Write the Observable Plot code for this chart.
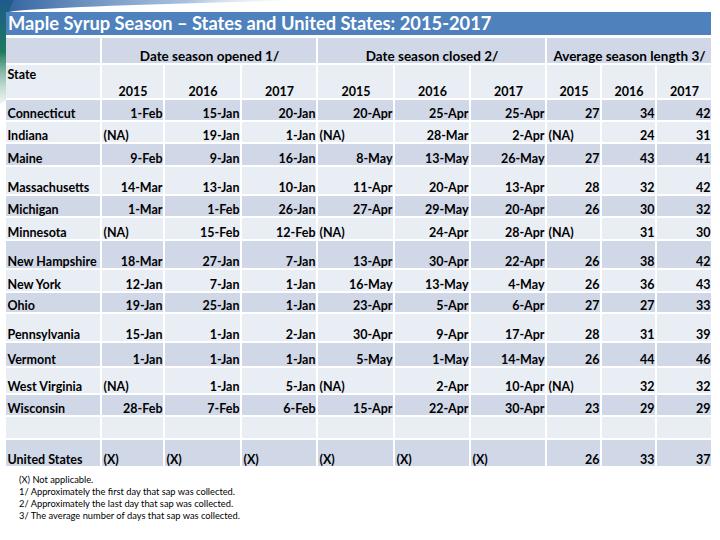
<!DOCTYPE html>
<html><head><meta charset="utf-8">
<script src="https://cdn.jsdelivr.net/npm/d3@7"></script>
<script src="https://cdn.jsdelivr.net/npm/@observablehq/plot@0.6"></script>
<style>
html,body{margin:0;padding:0;background:#fff;width:720px;height:540px;overflow:hidden;font-family:Lato,"Open Sans",sans-serif;}
#wrap{position:relative;width:720px;height:540px;}
#deco{position:absolute;left:0;top:0;}
#title{position:absolute;left:6px;top:12px;width:705px;height:23px;background:#4f81bd;color:#fff;font-weight:700;font-size:18.3px;line-height:23px;padding-left:2px;box-sizing:border-box;white-space:nowrap;}
#chart{position:absolute;left:0;top:38px;}
#notes{position:absolute;left:19px;top:474px;font-size:9.3px;line-height:12px;color:#000;white-space:nowrap;}
</style></head>
<body>
<div id="wrap">
<svg id="deco" width="320" height="110">
  <defs>
    <linearGradient id="g1" x1="0" x2="1" y1="0" y2="0">
      <stop offset="0" stop-color="#2d5f9e"/>
      <stop offset="0.6" stop-color="#6f97c8" stop-opacity="0.6"/>
      <stop offset="1" stop-color="#ffffff" stop-opacity="0"/>
    </linearGradient>
    <linearGradient id="g2" x1="0" x2="0" y1="0" y2="1">
      <stop offset="0" stop-color="#1f5a8a"/>
      <stop offset="0.5" stop-color="#1e7a5e"/>
      <stop offset="1" stop-color="#cfe3dc" stop-opacity="0.4"/>
    </linearGradient>
  </defs>
  <path d="M0,0 H310 C220,3 90,5 14,11 L0,14 Z" fill="url(#g1)"/>
  <path d="M0,0 H14 C9,8 6,20 6,36 L6,100 L0,104 Z" fill="url(#g2)"/>
</svg>
<div id="title">Maple Syrup Season – States and United States: 2015-2017</div>
<div id="chart"></div>
<div id="notes">
<div>(X) Not applicable.</div>
<div>1/ Approximately the first day that sap was collected.</div>
<div>2/ Approximately the last day that sap was collected.</div>
<div>3/ The average number of days that sap was collected.</div>
</div>
</div>
<script>
// ---- data ----
const groups = ["Date season opened 1/", "Date season closed 2/", "Average season length 3/"];
const years = ["2015", "2016", "2017"];
const states = ["Connecticut","Indiana","Maine","Massachusetts","Michigan","Minnesota","New Hampshire","New York","Ohio","Pennsylvania","Vermont","West Virginia","Wisconsin","","United States"];
const opened2015 = ["1-Feb","(NA)","9-Feb","14-Mar","1-Mar","(NA)","18-Mar","12-Jan","19-Jan","15-Jan","1-Jan","(NA)","28-Feb","","(X)"];
const opened2016 = ["15-Jan","19-Jan","9-Jan","13-Jan","1-Feb","15-Feb","27-Jan","7-Jan","25-Jan","1-Jan","1-Jan","1-Jan","7-Feb","","(X)"];
const opened2017 = ["20-Jan","1-Jan","16-Jan","10-Jan","26-Jan","12-Feb","7-Jan","1-Jan","1-Jan","2-Jan","1-Jan","5-Jan","6-Feb","","(X)"];
const closed2015 = ["20-Apr","(NA)","8-May","11-Apr","27-Apr","(NA)","13-Apr","16-May","23-Apr","30-Apr","5-May","(NA)","15-Apr","","(X)"];
const closed2016 = ["25-Apr","28-Mar","13-May","20-Apr","29-May","24-Apr","30-Apr","13-May","5-Apr","9-Apr","1-May","2-Apr","22-Apr","","(X)"];
const closed2017 = ["25-Apr","2-Apr","26-May","13-Apr","20-Apr","28-Apr","22-Apr","4-May","6-Apr","17-Apr","14-May","10-Apr","30-Apr","","(X)"];
const length2015 = [27,"(NA)",27,28,26,"(NA)",26,26,27,28,26,"(NA)",23,"",26];
const length2016 = [34,24,43,32,30,31,38,36,27,31,44,32,29,"",33];
const length2017 = [42,31,41,42,32,30,42,43,33,39,46,32,29,"",37];

// ---- layout (pixel pitches of columns and rows) ----
const colWidths = [96,63,77,76,77,76,76,55,55,56];
const rowHeights = [27,35,22,22,23,29,22,23,29,23,21,29,25,27,22,23,28];
const colX = [0]; colWidths.forEach((w,i)=>colX.push(colX[i]+w));
const rowY = [0]; rowHeights.forEach((h,i)=>rowY.push(rowY[i]+h));
const totalW = colX[colX.length-1], totalH = rowY[rowY.length-1];
const DARK = "#d0d8e8", LIGHT = "#e9edf4";

const dataCols = [opened2015, opened2016, opened2017, closed2015, closed2016, closed2017, length2015, length2016, length2017];

const rects = [];
const texts = [];
const shade = r => (r % 2 === 0 ? DARK : LIGHT);
// header row 0
rects.push({x1: colX[0], x2: colX[1], y1: rowY[0], y2: rowY[1], fill: shade(0)});
groups.forEach((g, k) => {
  const a = 1 + 3*k, b = a + 3;
  rects.push({x1: colX[a], x2: colX[b], y1: rowY[0], y2: rowY[1], fill: shade(0)});
  texts.push({x: (colX[a]+colX[b]-2)/2, y: rowY[1], text: g, anchor: "middle", group: true});
});
// header row 1
rects.push({x1: colX[0], x2: colX[1], y1: rowY[1], y2: rowY[2], fill: shade(1)});
texts.push({x: colX[0], y: rowY[1], text: "State", anchor: "start", state: true});
for (let c = 1; c < 10; c++) {
  rects.push({x1: colX[c], x2: colX[c+1], y1: rowY[1], y2: rowY[2], fill: shade(1)});
  texts.push({x: (colX[c]+colX[c+1]-2)/2, y: rowY[2], text: years[(c-1)%3], anchor: "middle"});
}
// body rows
states.forEach((s, i) => {
  const r = i + 2;
  for (let c = 0; c < 10; c++) {
    rects.push({x1: colX[c], x2: colX[c+1], y1: rowY[r], y2: rowY[r+1], fill: shade(r)});
  }
  if (s) texts.push({x: colX[0], y: rowY[r+1], text: s, anchor: "start"});
  dataCols.forEach((col, k) => {
    const v = col[i];
    if (v === "" || v == null) return;
    const str = String(v);
    const left = str.startsWith("(");
    texts.push({x: left ? colX[k+1] : colX[k+2], y: rowY[r+1], text: str, anchor: left ? "start" : "end"});
  });
});

const common = {lineAnchor: "bottom", fontWeight: "bold", fontSize: 12.5, fill: "#000"};
const chart = Plot.plot({
  width: 720, height: totalH,
  marginTop: 0, marginBottom: 0, marginLeft: 0, marginRight: 0,
  x: {type: "linear", domain: [0, totalW], range: [6, 6 + totalW], axis: null},
  y: {type: "linear", domain: [0, totalH], range: [0, totalH], axis: null},
  color: {type: "identity"},
  style: {background: "transparent", fontFamily: "Lato, 'Open Sans', sans-serif", overflow: "visible"},
  marks: [
    Plot.rect(rects, {x1: "x1", x2: "x2", y1: "y1", y2: "y2", fill: "fill", insetRight: 2, insetBottom: 2}),
    Plot.text(texts.filter(d => d.group), {x: "x", y: "y", text: "text", textAnchor: "middle", dy: -5, ...common, fontSize: 13.5}),
    Plot.text(texts.filter(d => d.anchor === "middle" && !d.group), {x: "x", y: "y", text: "text", textAnchor: "middle", dy: -5, ...common}),
    Plot.text(texts.filter(d => d.anchor === "start" && !d.state), {x: "x", y: "y", text: "text", textAnchor: "start", dx: 1, dy: -5, ...common}),
    Plot.text(texts.filter(d => d.state), {x: "x", y: "y", text: "text", textAnchor: "start", dx: 1, dy: 13, ...common}),
    Plot.text(texts.filter(d => d.anchor === "end"), {x: "x", y: "y", text: "text", textAnchor: "end", dx: -3, dy: -5, ...common})
  ]
});
document.getElementById("chart").appendChild(chart);
</script>
</body></html>
